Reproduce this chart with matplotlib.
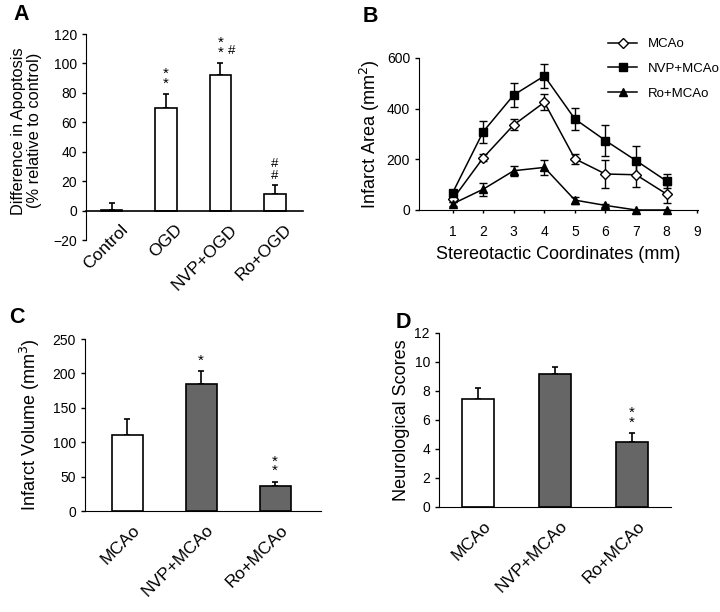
import matplotlib
matplotlib.use("Agg")
import matplotlib.pyplot as plt
import matplotlib.transforms as mtransforms
from matplotlib.lines import Line2D
import numpy as np

plt.rcParams["font.family"] = ["Liberation Sans", "DejaVu Sans"]

# Panel A: apoptosis after OGD
a_groups = ["Control", "OGD", "NVP+OGD", "Ro+OGD"]
a_values = [0.5, 69.5, 92, 11]
a_err = [5, 9.5, 8.5, 6.5]

# Panel B: infarct area along stereotactic coordinates
b_coords = [1, 2, 3, 4, 5, 6, 7, 8]
b_mcao = [42, 206, 336, 425, 202, 142, 139, 63]
b_mcao_err = [12, 14, 22, 32, 20, 55, 48, 37]
b_nvp = [68, 309, 454, 529, 359, 274, 195, 114]
b_nvp_err = [10, 43, 46, 47, 42, 60, 59, 29]
b_ro = [24, 82, 155, 168, 39, 18, 0, 0]
b_ro_err = [8, 26, 20, 29, 14, 5, 0, 0]

# Panel C: infarct volume
c_groups = ["MCAo", "NVP+MCAo", "Ro+MCAo"]
c_values = [110, 185, 36]
c_err = [24, 19, 6]

# Panel D: neurological scores
d_groups = ["MCAo", "NVP+MCAo", "Ro+MCAo"]
d_values = [7.45, 9.2, 4.5]
d_err = [0.75, 0.45, 0.6]

bar_colors = ["white", "#666666", "#666666"]

fig = plt.figure(figsize=(7.2, 6.12), dpi=100)


def style_axes(ax):
    ax.spines["top"].set_visible(False)
    ax.spines["right"].set_visible(False)
    ax.tick_params(axis="y", direction="out", length=3, width=1, labelsize=10)
    ax.tick_params(axis="x", length=0, labelsize=12.5, pad=8)


def bar_panel(ax, groups, values, err, colors, width, shift_px=5):
    x = np.arange(len(groups))
    ax.bar(x, values, width=width, color=colors, edgecolor="black", linewidth=1.2, zorder=2)
    ax.errorbar(x, values, yerr=[np.zeros(len(err)), err], fmt="none",
                ecolor="black", elinewidth=1.2, capsize=2.5, capthick=1.2, zorder=1)
    ax.set_xticks(x)
    ax.set_xticklabels(groups, rotation=45, ha="right", rotation_mode="anchor")
    offset = mtransforms.ScaledTranslation(shift_px / 100, 0, fig.dpi_scale_trans)
    for lab in ax.get_xticklabels():
        lab.set_transform(lab.get_transform() + offset)
    return x


star = dict(ha="center", va="center", fontsize=11)
hash_kw = dict(ha="center", va="center", fontsize=9.5)

# ---- A ----
axA = fig.add_axes([0.1194, 0.6078, 0.301, 0.3366])
style_axes(axA)
axA.spines["bottom"].set_position(("data", 0))
axA.spines["bottom"].set_linewidth(1.2)
bar_panel(axA, a_groups, a_values, a_err, "white", 0.4, shift_px=9)
axA.set_ylim(-20, 120)
axA.set_yticks(range(-20, 121, 20))
axA.set_xlim(-0.47, 3.51)
axA.set_ylabel("Difference in Apoptosis\n(% relative to control)", fontsize=11.8,
               linespacing=1.05)
axA.yaxis.set_label_coords(-0.205, 0.53)
axA.text(1, 93, "*", **star)
axA.text(1, 86, "*", **star)
axA.text(2, 114, "*", **star)
axA.text(2, 107, "*", **star)
axA.text(2.2, 108.5, "#", **hash_kw)
axA.text(3, 31.5, "#", **hash_kw)
axA.text(3, 23.5, "#", **hash_kw)

# ---- B ----
axB = fig.add_axes([0.582, 0.6569, 0.3875, 0.2484])
axB.spines["top"].set_visible(False)
axB.spines["right"].set_visible(False)
axB.tick_params(axis="y", direction="out", length=3, width=1, labelsize=10)
axB.tick_params(axis="x", direction="out", length=2.5, width=1, labelsize=10, pad=8)
line_kw = dict(color="black", lw=1.1, ecolor="black", elinewidth=1.0, capsize=3, capthick=1.0)
axB.errorbar(b_coords, b_mcao, yerr=b_mcao_err, marker="D", markersize=5,
             mfc="white", mec="black", **line_kw)
axB.errorbar(b_coords, b_nvp, yerr=b_nvp_err, marker="s", markersize=6,
             mfc="black", mec="black", **line_kw)
axB.errorbar(b_coords, b_ro, yerr=b_ro_err, marker="^", markersize=6,
             mfc="black", mec="black", clip_on=False, **line_kw)
axB.set_xlim(-0.1, 9.03)
axB.set_ylim(0, 600)
axB.set_xticks(range(1, 10))
axB.set_yticks([0, 200, 400, 600])
axB.set_ylabel("Infarct Area (mm$^2$)", fontsize=13)
axB.yaxis.set_label_coords(-0.133, 0.5)
axB.set_xlabel("Stereotactic Coordinates (mm)", fontsize=13, labelpad=5)
handles = [
    Line2D([], [], color="black", lw=1.1, marker="D", markersize=5, mfc="white", mec="black"),
    Line2D([], [], color="black", lw=1.1, marker="s", markersize=6, mfc="black"),
    Line2D([], [], color="black", lw=1.1, marker="^", markersize=6, mfc="black"),
]
fig.legend(handles, ["MCAo", "NVP+MCAo", "Ro+MCAo"], loc="upper left",
           bbox_to_anchor=(0.845, 0.938), frameon=False, fontsize=9.5,
           handlelength=2.2, labelspacing=0.95, handletextpad=0.8,
           borderaxespad=0, borderpad=0)

# ---- C ----
axC = fig.add_axes([0.118, 0.165, 0.3278, 0.281])
style_axes(axC)
bar_panel(axC, c_groups, c_values, c_err, bar_colors, 0.42)
axC.set_ylim(0, 250)
axC.set_yticks(range(0, 251, 50))
axC.set_xlim(-0.57, 2.62)
axC.set_ylabel("Infarct Volume (mm$^3$)", fontsize=13)
axC.yaxis.set_label_coords(-0.18, 0.5)
axC.text(1, 218, "*", **star)
axC.text(2, 72, "*", **star)
axC.text(2, 58, "*", **star)

# ---- D ----
axD = fig.add_axes([0.6097, 0.1716, 0.3222, 0.2843])
style_axes(axD)
bar_panel(axD, d_groups, d_values, d_err, bar_colors, 0.42)
axD.set_ylim(0, 12)
axD.set_yticks(range(0, 13, 2))
axD.set_xlim(-0.51, 2.51)
axD.set_ylabel("Neurological Scores", fontsize=13)
axD.yaxis.set_label_coords(-0.123, 0.5)
axD.text(2, 6.5, "*", **star)
axD.text(2, 5.8, "*", **star)

# panel letters
for lx, ly, letter in [(0.019, 0.993, "A"), (0.504, 0.99, "B"),
                       (0.012, 0.498, "C"), (0.549, 0.49, "D")]:
    fig.text(lx, ly, letter, fontsize=15.5, fontweight="bold", va="top", ha="left")

fig.savefig("out.png", dpi=100)
